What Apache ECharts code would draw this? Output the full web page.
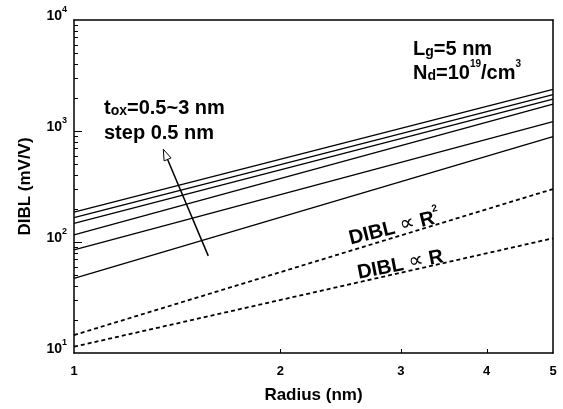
<!DOCTYPE html>
<html>
<head>
<meta charset="utf-8">
<script src="https://cdn.jsdelivr.net/npm/echarts@6/dist/echarts.min.js"></script>
<style>
  html, body { margin: 0; padding: 0; background: #fff; }
  #chart { width: 563px; height: 409px; }
</style>
</head>
<body>
<div id="chart"></div>
<script>
/* DIBL vs radius, log-log, Lg = 5 nm */

// data (values at R = 1 nm and R = 5 nm)
const radiusEnds = [1, 5];
const toxNm = [0.5, 1.0, 1.5, 2.0, 2.5, 3.0];
const diblAtR1 = [47, 85, 116, 147, 166, 186];
const diblAtR5 = [889, 1213, 1750, 1942, 2124, 2377];
const diblPropR2 = [14.5, 300];
const diblPropR = [11.4, 108];

// axes
const xLabelValues = [1, 2, 3, 4, 5];
const xTickValues = [2, 3, 4];
const yMajorTicks = [100, 1000];
const yMinorTicks = [20, 30, 40, 50, 60, 70, 80, 90,
  200, 300, 400, 500, 600, 700, 800, 900,
  2000, 3000, 4000, 5000, 6000, 7000, 8000, 9000];

// arrow (tail -> tip) in data coords
const arrowTail = [1.57, 75];
const arrowTip = [1.35, 684];

const FONT = "'Liberation Sans', Arial, 'DejaVu Sans', sans-serif";
const INK = '#000';

const chart = echarts.init(document.getElementById('chart'), null, { renderer: 'canvas' });

const lineSeries = toxNm.map((t, i) => ({
  name: 'tox=' + t + ' nm',
  type: 'line',
  data: radiusEnds.map((r, j) => [r, j === 0 ? diblAtR1[i] : diblAtR5[i]]),
  symbol: 'none',
  silent: true,
  lineStyle: { color: INK, width: 1.3 },
}));

function dashed(name, vals) {
  return {
    name,
    type: 'line',
    data: radiusEnds.map((r, j) => [r, vals[j]]),
    symbol: 'none',
    silent: true,
    lineStyle: { color: INK, width: 1.8, type: [4, 3] },
  };
}

const tickText = { color: INK, fontFamily: FONT, fontWeight: 'bold' };
const axisLn = { show: true, onZero: false, lineStyle: { color: INK, width: 1.5 } };

// frame-only axis (top / right side of the box)
function frameAxis(extra) {
  return {
    type: 'log', logBase: 10, ...extra,
    axisLine: axisLn, axisTick: { show: false }, axisLabel: { show: false }, splitLine: { show: false },
  };
}

const option = {
  backgroundColor: '#fff',
  animation: false,
  grid: { left: 74, right: 10, top: 20, bottom: 56 },
  xAxis: [{
    type: 'log', logBase: 10, min: 1, max: 5,
    name: 'Radius (nm)', nameLocation: 'middle', nameGap: 34,
    nameTextStyle: { ...tickText, fontSize: 17 },
    axisLine: axisLn,
    axisTick: { show: false },
    axisLabel: { customValues: xLabelValues, formatter: v => String(Math.round(v)), margin: 12, ...tickText, fontSize: 13 },
    splitLine: { show: false },
  }, frameAxis({ min: 1, max: 5, position: 'top' })],
  yAxis: [{
    type: 'log', logBase: 10, min: 10, max: 10000,
    name: 'DIBL (mV/V)', nameLocation: 'middle', nameGap: 40,
    nameTextStyle: { ...tickText, fontSize: 17 },
    axisLine: axisLn,
    axisTick: { show: false },
    axisLabel: {
      margin: 7,
      padding: [0, 0, 12, 0],
      formatter: v => '{b|10}{s|' + Math.round(Math.log10(v)) + '}',
      rich: {
        b: { ...tickText, fontSize: 14, lineHeight: 18, verticalAlign: 'bottom' },
        s: { ...tickText, fontSize: 9, lineHeight: 10, verticalAlign: 'top' },
      },
    },
    splitLine: { show: false },
  }, frameAxis({ min: 10, max: 10000, position: 'right' })],
  series: [...lineSeries, dashed('DIBL ∝ R²', diblPropR2), dashed('DIBL ∝ R', diblPropR)],
};

chart.setOption(option);

/* ── annotations ── */
const big = { fill: INK, fontFamily: FONT, fontWeight: 'bold', fontSize: 20, lineHeight: 24, verticalAlign: 'bottom' };
const sub = { fill: INK, fontFamily: FONT, fontWeight: 'bold', fontSize: 14, lineHeight: 18, verticalAlign: 'bottom' };
const sup = { fill: INK, fontFamily: FONT, fontWeight: 'bold', fontSize: 10, lineHeight: 12, verticalAlign: 'top' };
const prop = { fill: INK, fontFamily: "'DejaVu Sans', sans-serif", fontSize: 21, lineHeight: 24, verticalAlign: 'bottom' };
const richSet = { a: big, s: sub, p: sup, o: prop };

function label(x, y, text, rot) {
  return {
    type: 'text', x, y, rotation: rot || 0, silent: true,
    style: { text, rich: richSet, align: 'left', verticalAlign: 'middle' },
  };
}
function centred(x, y, text, rot) {
  const g = label(x, y, text, rot);
  g.style.align = 'center';
  return g;
}

const toPx = (x, y) => chart.convertToPixel({ xAxisIndex: 0, yAxisIndex: 0 }, [x, y]);
const origin = toPx(1, 10);
const crisp = v => Math.round(v) + 0.5;

function seg(x1, y1, x2, y2) {
  return {
    type: 'line', silent: true, z: 10,
    shape: { x1, y1, x2, y2 },
    style: { stroke: INK, lineWidth: 1 },
  };
}

// ticks drawn inward from the left / bottom edges, positions from the axis scale
const ticks = [
  ...yMajorTicks.map(v => { const y = crisp(toPx(1, v)[1]); return seg(origin[0], y, origin[0] + 8, y); }),
  ...yMinorTicks.map(v => { const y = crisp(toPx(1, v)[1]); return seg(origin[0], y, origin[0] + 4, y); }),
  ...xTickValues.map(v => { const x = crisp(toPx(v, 10)[0]); return seg(x, origin[1], x, origin[1] - 4); }),
];

const p0 = toPx(arrowTail[0], arrowTail[1]);
const p1 = toPx(arrowTip[0], arrowTip[1]);
const dx = p1[0] - p0[0], dy = p1[1] - p0[1];
const len = Math.hypot(dx, dy);
const ux = dx / len, uy = dy / len;
const headLen = 11, headHalf = 3.8;
const base = [p1[0] - ux * headLen, p1[1] - uy * headLen];

chart.setOption({
  graphic: [
    ...ticks,
    label(104, 106, '{a|t}{s|ox}{a|=0.5~3 nm}'),
    label(104, 131, '{a|step 0.5 nm}'),
    label(413, 47, '{a|L}{s|g}{a|=5 nm}'),
    label(413, 71, '{a|N}{s|d}{a|=10}{p|19}{a|/cm}{p|3}'),
    centred(394, 226, '{a|DIBL }{o|∝}{a| R}{p|2}', 14 * Math.PI / 180),
    centred(400, 263, '{a|DIBL }{o|∝}{a| R}', 11 * Math.PI / 180),
    {
      type: 'line', silent: true,
      shape: { x1: p0[0], y1: p0[1], x2: base[0], y2: base[1] },
      style: { stroke: INK, lineWidth: 1.5 },
    },
    {
      type: 'polygon', silent: true,
      shape: { points: [
        p1,
        [base[0] - uy * headHalf, base[1] + ux * headHalf],
        [base[0] + uy * headHalf, base[1] - ux * headHalf],
      ] },
      style: { fill: '#fff', stroke: INK, lineWidth: 1 },
    },
  ],
});
</script>
</body>
</html>
